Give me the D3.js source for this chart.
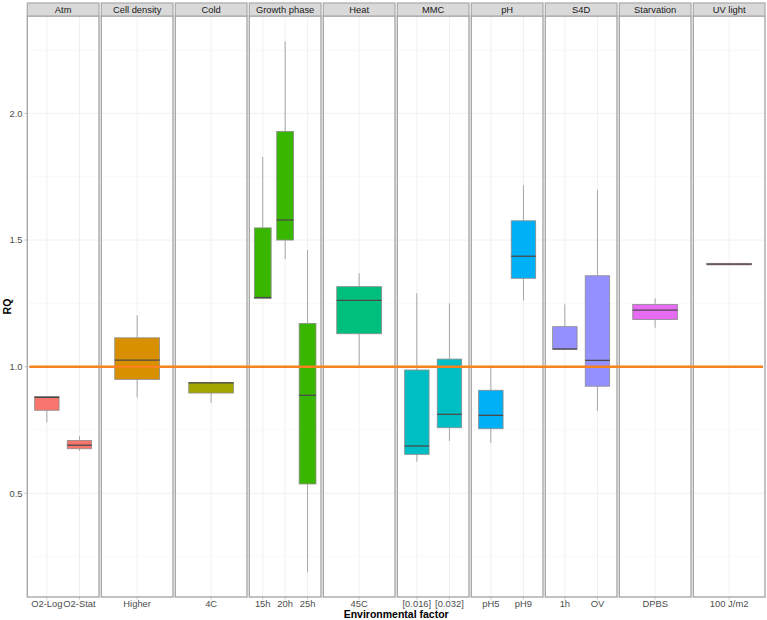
<!DOCTYPE html>
<html><head><meta charset="utf-8">
<script src="https://cdn.jsdelivr.net/npm/d3@7"></script>
<style>body{margin:0;background:#fff}svg{display:block;font-family:"Liberation Sans",Arial,sans-serif}</style>
</head><body><svg id="c" width="767" height="620"></svg>
<script>
const factors = ["Atm","Cell density","Cold","Growth phase","Heat","MMC","pH","S4D","Starvation","UV light"];
const factorColors = ["#F8766D","#D89000","#A3A500","#39B600","#00BF7D","#00BFC4","#00B0F6","#9590FF","#E76BF3","#FF62BC"];
const conditions = ["O2-Log","O2-Stat","Higher","4C","15h","20h","25h","45C","[0.016]","[0.032]","pH5","pH9","1h","OV","DPBS","100 J/m2"];
const conditionFactor = ["Atm","Atm","Cell density","Cold","Growth phase","Growth phase","Growth phase","Heat","MMC","MMC","pH","pH","S4D","S4D","Starvation","UV light"];
const lowerWhisker = [0.780,0.668,0.878,0.857,1.270,1.425,0.189,1.003,0.625,0.707,0.700,1.262,1.069,0.825,1.154,1.405];
const q1 =           [0.828,0.676,0.950,0.896,1.270,1.500,0.537,1.130,0.654,0.759,0.755,1.349,1.069,0.923,1.186,1.402];
const median =       [0.879,0.690,1.026,0.936,1.273,1.579,0.887,1.262,0.687,0.812,0.808,1.436,1.070,1.025,1.223,1.405];
const q3 =           [0.882,0.709,1.114,0.938,1.548,1.929,1.171,1.316,0.987,1.030,0.907,1.576,1.158,1.359,1.246,1.408];
const upperWhisker = [0.882,0.726,1.203,0.938,1.828,2.284,1.461,1.369,1.290,1.250,1.000,1.717,1.246,1.698,1.270,1.405];
const yMajorTicks = [0.5,1.0,1.5,2.0];
const yMinorTicks = [0.25,0.75,1.25,1.75,2.25];
const referenceLine = 1.0;

const svg = d3.select("#c");
const panelTop = 16, panelBottom = 597, stripTop = 3;
const y = d3.scaleLinear().domain([0.0908, 2.3845]).range([panelBottom, panelTop]);
const fx = d3.scaleBand().domain(factors).range([27.3, 765]).paddingInner(0.031).paddingOuter(0);
const color = d3.scaleOrdinal().domain(factors).range(factorColors);

const rows = conditions.map((c,i)=>({c, f:conditionFactor[i], lo:lowerWhisker[i], q1:q1[i], med:median[i], q3:q3[i], hi:upperWhisker[i]}));

factors.forEach(f=>{
  const x0 = fx(f), w = fx.bandwidth();
  const cats = rows.filter(r=>r.f===f);
  const n = cats.length;
  const xs = d3.scaleLinear().domain([0.4, n+0.6]).range([x0, x0+w]);
  const g = svg.append("g");
  g.append("rect").attr("x",x0).attr("y",panelTop).attr("width",w).attr("height",panelBottom-panelTop).attr("fill","#fff");
  yMinorTicks.forEach(t=>g.append("line").attr("x1",x0).attr("x2",x0+w).attr("y1",y(t)).attr("y2",y(t)).attr("stroke","#F4F4F4").attr("stroke-width",0.6));
  yMajorTicks.forEach(t=>g.append("line").attr("x1",x0).attr("x2",x0+w).attr("y1",y(t)).attr("y2",y(t)).attr("stroke","#ECECEC").attr("stroke-width",0.8));
  cats.forEach((r,i)=>g.append("line").attr("x1",xs(i+1)).attr("x2",xs(i+1)).attr("y1",panelTop).attr("y2",panelBottom).attr("stroke","#ECECEC").attr("stroke-width",0.8));
  const bw = xs(0.75)-xs(0);
  cats.forEach((r,i)=>{
    const cx = xs(i+1);
    g.append("line").attr("x1",cx).attr("x2",cx).attr("y1",y(r.hi)).attr("y2",y(r.q3)).attr("stroke","#A6A6A6").attr("stroke-width",1);
    g.append("line").attr("x1",cx).attr("x2",cx).attr("y1",y(r.q1)).attr("y2",y(r.lo)).attr("stroke","#A6A6A6").attr("stroke-width",1);
    g.append("rect").attr("x",cx-bw/2).attr("y",y(r.q3)).attr("width",bw).attr("height",Math.max(0.5,y(r.q1)-y(r.q3)))
      .attr("fill",color(f)).attr("stroke","#8C8C8C").attr("stroke-width",0.8);
    g.append("line").attr("x1",cx-bw/2).attr("x2",cx+bw/2).attr("y1",y(r.med)).attr("y2",y(r.med)).attr("stroke","#4A4A4A").attr("stroke-width",1.3);
    g.append("line").attr("x1",cx).attr("x2",cx).attr("y1",panelBottom).attr("y2",panelBottom+2.5).attr("stroke","#B3B3B3").attr("stroke-width",0.8);
    g.append("text").attr("x",cx).attr("y",panelBottom+9.5).attr("text-anchor","middle").attr("font-size",9.4).attr("fill","#4D4D4D").text(r.c);
  });
  g.append("rect").attr("x",x0).attr("y",panelTop).attr("width",w).attr("height",panelBottom-panelTop).attr("fill","none").attr("stroke","#A8A8A8").attr("stroke-width",1.4);
  g.append("rect").attr("x",x0).attr("y",stripTop).attr("width",w).attr("height",panelTop-stripTop).attr("fill","#D9D9D9").attr("stroke","#A8A8A8").attr("stroke-width",1.2);
  g.append("text").attr("x",x0+w/2).attr("y",stripTop+10).attr("text-anchor","middle").attr("font-size",9.4).attr("fill","#1A1A1A").text(f);
});

svg.append("line").attr("x1",fx(factors[0])+2).attr("x2",fx(factors[factors.length-1])+fx.bandwidth()-2)
  .attr("y1",y(referenceLine)).attr("y2",y(referenceLine)).attr("stroke","#F7821E").attr("stroke-width",2.6);

const yAx = svg.append("g");
yMajorTicks.forEach(t=>{
  yAx.append("line").attr("x1",24.5).attr("x2",27.3).attr("y1",y(t)).attr("y2",y(t)).attr("stroke","#B3B3B3").attr("stroke-width",0.8);
  yAx.append("text").attr("x",22.5).attr("y",y(t)+3.3).attr("text-anchor","end").attr("font-size",9.4).attr("fill","#4D4D4D").text(d3.format(".1f")(t));
});
svg.append("text").attr("transform",`translate(11,${(panelTop+panelBottom)/2}) rotate(-90)`).attr("text-anchor","middle")
  .attr("font-size",10.5).attr("font-weight","bold").attr("fill","#000").text("RQ");
svg.append("text").attr("x",(27.3+765)/2).attr("y",617.5).attr("text-anchor","middle")
  .attr("font-size",10.5).attr("font-weight","bold").attr("fill","#000").text("Environmental factor");
</script></body></html>
